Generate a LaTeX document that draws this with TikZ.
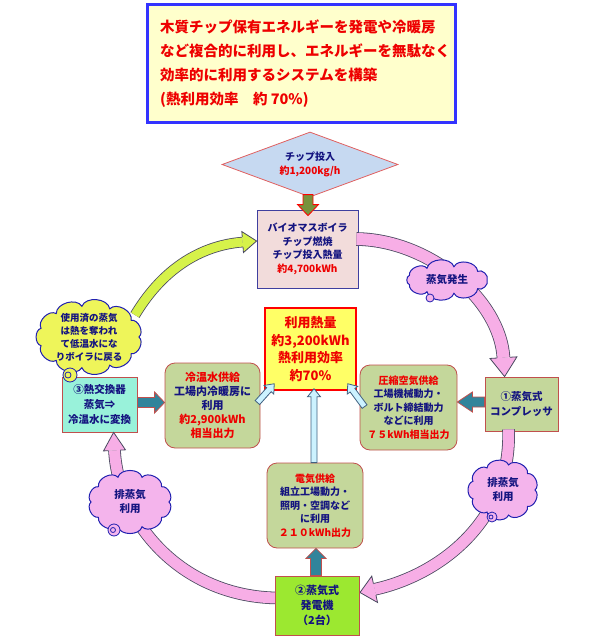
\documentclass[tikz,border=0pt]{standalone}
\usepackage{fontspec}
\setmainfont{Noto Sans CJK JP}
\usetikzlibrary{shapes.geometric,calc}
\definecolor{jred}{HTML}{EE0000}
\definecolor{jnavy}{HTML}{141480}
\definecolor{titlefill}{HTML}{FFFFCC}
\definecolor{titleblue}{HTML}{3333FF}
\definecolor{diafill}{HTML}{C6D9F1}
\definecolor{diaborder}{HTML}{E06060}
\definecolor{boilfill}{HTML}{F2DCDB}
\definecolor{boilborder}{HTML}{3F3F9F}
\definecolor{ctrfill}{HTML}{FFFF66}
\definecolor{olivefill}{HTML}{C4D79B}
\definecolor{boxred}{HTML}{C0504D}
\definecolor{hxfill}{HTML}{99F2DA}
\definecolor{genfill}{HTML}{9CE830}
\definecolor{bandpink}{HTML}{F7AEE6}
\definecolor{cloudpink}{HTML}{F4B4EC}
\definecolor{cloudyellow}{HTML}{EEF55A}
\definecolor{cloudblue}{HTML}{2020B0}
\definecolor{yellowarrow}{HTML}{D6F24A}
\definecolor{arrowborder}{HTML}{4A4A60}
\definecolor{tealarrow}{HTML}{31849B}
\definecolor{olivearrow}{HTML}{77933C}
\definecolor{lightblue}{HTML}{CCF2FF}
\definecolor{lbborder}{HTML}{406080}
% curved band arrow: start, c1, c2, tip, band width, head length, head half width, fill, draw
\newcommand{\bandarrow}[9]{%
  \coordinate (bB) at ($(#4)!#6!(#3)$);
  \draw[draw=#9, line width=0.8pt, double=#8, double distance=#5] (#1) .. controls (#2) and (#3) .. (bB);
  \fill[#8] ($(bB)!#7!90:(#4)$) -- (#4) -- ($(bB)!#7!-90:(#4)$) -- cycle;
  \draw[#9, line width=0.8pt, line join=miter] ($(bB)!0.5*#5+0.4pt!90:(#4)$) -- ($(bB)!#7!90:(#4)$) -- (#4) -- ($(bB)!#7!-90:(#4)$) -- ($(bB)!0.5*#5+0.4pt!-90:(#4)$);
}
% straight block arrow: start, tip, shaft half width, head length, head half width, fill, draw
\newcommand{\blockarrow}[7]{%
  \coordinate (kB) at ($(#2)!#4!(#1)$);
  \filldraw[fill=#6, draw=#7, line width=0.8pt, line join=miter]
    ($(#1)!#3!90:(#2)$) -- ($(kB)!#3!90:(#2)$) -- ($(kB)!#5!90:(#2)$) -- (#2)
    -- ($(kB)!#5!-90:(#2)$) -- ($(kB)!#3!-90:(#2)$) -- ($(#1)!#3!-90:(#2)$) -- cycle;
}
% cloud: centre, x radius, y radius, number of puffs, fill
\newcommand{\puffcloud}[5]{%
  \filldraw[fill=#5, draw=cloudblue, line width=1pt] ($(#1)+(#2,0)$)
    \foreach \k in {1,...,#4} { to[bend left=75] ($(#1)+({#2*cos(\k*360/#4)},{#3*sin(\k*360/#4)})$) } -- cycle;
}
\tikzset{
  plainbox/.style={draw=boxred, line width=0.8pt, inner sep=0pt, align=center,
    font=\fontsize{10}{13.5}\selectfont\bfseries, text=jnavy},
  roundbox/.style={plainbox, rounded corners=10pt, fill=olivefill},
  cloudtext/.style={inner sep=0pt, align=center, text=jnavy, font=\fontsize{10.5}{14}\selectfont\bfseries},
  bubble/.style={draw=cloudblue, line width=0.8pt}
}
\begin{document}
\begin{tikzpicture}[x=1pt,y=-1pt]
\useasboundingbox (0,0) rectangle (595,639);
% title
\node[draw=titleblue, line width=3pt, fill=titlefill, minimum width=308, minimum height=118, inner sep=0] (tb) at (301,64) {};
\node[anchor=north west, inner sep=0, align=left, text=jred, font=\fontsize{14.5}{24}\selectfont\bfseries] (tt) at (160,20)
  {木質チップ保有エネルギーを発電や冷暖房\\など複合的に利用し、エネルギーを無駄なく\\効率的に利用するシステムを構築\\(熱利用効率　約 70\%)};
% boiler, chip input
\node[plainbox, draw=boilborder, fill=boilfill, minimum width=101, minimum height=78] (bl) at (307.5,249)
  {バイオマスボイラ\\チップ燃焼\\チップ投入熱量\\\textcolor{jred}{約4,700kWh}};
\node[diamond, aspect=2.35, draw=diaborder, line width=0.8pt, fill=diafill, minimum width=176, minimum height=65, inner sep=0,
  align=center, text=jnavy, font=\fontsize{10}{14}\selectfont\bfseries] (dm) at (310,164.5)
  {チップ投入\\\textcolor{jred}{約1,200kg/h}};
\coordinate (oa) at ($(bl.north)+(0.5,-15)$);
\coordinate (ob) at ($(bl.north)+(0.5,6)$);
\blockarrow{oa}{ob}{5pt}{11pt}{10.5pt}{olivearrow}{red}
\node[plainbox, draw=red, line width=1.5pt, fill=ctrfill, minimum width=91, minimum height=82, text=jred,
  font=\fontsize{13}{17.5}\selectfont\bfseries] (ct) at (310.5,349)
  {利用熱量\\約3,200kWh\\熱利用効率\\約70\%};
\node[roundbox, minimum width=95, minimum height=85, font=\fontsize{11}{14}\selectfont\bfseries] (cw) at (212.5,405.5)
  {\textcolor{jred}{冷温水供給}\\工場内冷暖房に\\利用\\\textcolor{jred}{約2,900kWh}\\\textcolor{jred}{相当出力}};
\node[roundbox, minimum width=97, minimum height=85] (air) at (408.5,407.5)
  {\textcolor{jred}{圧縮空気供給}\\工場機械動力・\\ボルト締結動力\\などに利用\\\textcolor{jred}{７５kWh相当出力}};
\node[plainbox, fill=olivefill, minimum width=73, minimum height=54, font=\fontsize{10.5}{15}\selectfont\bfseries] (c1) at (521.5,404)
  {①蒸気式\\コンプレッサ};
\node[roundbox, minimum width=96, minimum height=85] (elec) at (315,505.5)
  {\textcolor{jred}{電気供給}\\組立工場動力・\\照明・空調など\\に利用\\\textcolor{jred}{２１０kWh出力}};
% bands (drawn under clouds and boxes)
\coordinate (ys) at (135,315);
\coordinate (yc1) at (165,265);
\coordinate (yc2) at (205,245);
\coordinate (yt) at ($(bl.west)+(0,-8)$);
\bandarrow{ys}{yc1}{yc2}{yt}{9pt}{14pt}{10.5pt}{yellowarrow}{arrowborder}
\coordinate (p1s) at ($(bl.east)+(-2,-10)$);
\coordinate (p1a) at (430,240);
\coordinate (p1b) at (500,300);
\coordinate (p1t) at ($(c1.north west)+(20,0)$);
\bandarrow{p1s}{p1a}{p1b}{p1t}{12pt}{19pt}{13.5pt}{bandpink}{arrowborder}
\coordinate (gw) at (275,598);
\coordinate (ge) at (360,592.5);
\coordinate (p2s) at ($(c1.south)+(-13,-2)$);
\coordinate (p2a) at (512,520);
\coordinate (p2b) at (440,575);
\bandarrow{p2s}{p2a}{p2b}{ge}{11pt}{15pt}{13.5pt}{bandpink}{arrowborder}
\node[plainbox, fill=hxfill, minimum width=75, minimum height=55, font=\fontsize{10.5}{15}\selectfont\bfseries] (hx) at (99.5,404.5)
  {③熱交換器\\蒸気⇒\\冷温水に変換};
\coordinate (p3s) at ($(gw)+(5,0)$);
\coordinate (p3a) at (180,598);
\coordinate (p3b) at (118,520);
\coordinate (p3t) at ($(hx.south west)+(52,0)$);
\bandarrow{p3s}{p3a}{p3b}{p3t}{11pt}{18pt}{11pt}{bandpink}{arrowborder}
\node[plainbox, fill=genfill, minimum width=84, minimum height=59, font=\fontsize{11}{15}\selectfont\bfseries] (gen) at (317,605.5)
  {②蒸気式\\発電機\\（2台）};
% clouds
\coordinate (cl1) at (89,337);
\puffcloud{cl1}{50}{31}{11}{cloudyellow}
\node[cloudtext, font=\fontsize{9.5}{13}\selectfont\bfseries] (cl1t) at (cl1) {使用済の蒸気\\は熱を奪われ\\て低温水にな\\りボイラに戻る};
\filldraw[bubble, fill=cloudyellow] ($(cl1)+(-19,38)$) circle (7);
\draw[bubble] ($(cl1)+(-21,38)$) circle (3);
\coordinate (cl2) at (447,280);
\puffcloud{cl2}{40}{13.5}{9}{cloudpink}
\node[cloudtext] (cl2t) at (cl2) {蒸気発生};
\filldraw[bubble, fill=cloudpink] ($(cl2)+(-17,18)$) circle (4);
\coordinate (cl3) at (503,490);
\puffcloud{cl3}{32}{25.5}{9}{cloudpink}
\node[cloudtext] (cl3t) at (cl3) {排蒸気\\利用};
\filldraw[bubble, fill=cloudpink] ($(cl3)+(-11,27)$) circle (5);
\draw[bubble] ($(cl3)+(-12,27)$) circle (2);
\coordinate (cl4) at (130,502);
\puffcloud{cl4}{39}{26}{10}{cloudpink}
\node[cloudtext] (cl4t) at (cl4) {排蒸気\\利用};
\filldraw[bubble, fill=cloudpink] ($(cl4)+(-16,28)$) circle (6);
\draw[bubble] ($(cl4)+(-17,28)$) circle (2.5);
% block arrows
\coordinate (ta) at ($(hx.east)+(0,-2)$);
\coordinate (tb2) at (ta -| cw.west);
\blockarrow{ta}{tb2}{5pt}{10pt}{10.5pt}{tealarrow}{boxred}
\coordinate (tc) at ($(c1.west)+(0,-2)$);
\coordinate (td) at (tc -| air.east);
\blockarrow{tc}{td}{5pt}{15pt}{10pt}{tealarrow}{boxred}
\coordinate (te) at ($(gen.north)+(-1,0)$);
\coordinate (tf) at (te |- elec.south);
\blockarrow{te}{tf}{5.5pt}{10pt}{10pt}{tealarrow}{boxred}
% light blue arrows to the centre
\coordinate (la) at ($(cw.north east)+(-3,40)$);
\coordinate (lb) at ($(ct.south west)+(10,-7)$);
\blockarrow{la}{lb}{3pt}{8pt}{6.5pt}{lightblue}{lbborder}
\coordinate (lc) at ($(air.north west)+(5,42)$);
\coordinate (ld) at ($(ct.south east)+(-9,-7)$);
\blockarrow{lc}{ld}{3pt}{8pt}{6.5pt}{lightblue}{lbborder}
\coordinate (le) at ($(elec.north)+(-1,0)$);
\coordinate (lf) at ($(le |- ct.south)+(0,-2)$);
\blockarrow{le}{lf}{3pt}{8pt}{6.5pt}{lightblue}{lbborder}
\end{tikzpicture}
\end{document}
